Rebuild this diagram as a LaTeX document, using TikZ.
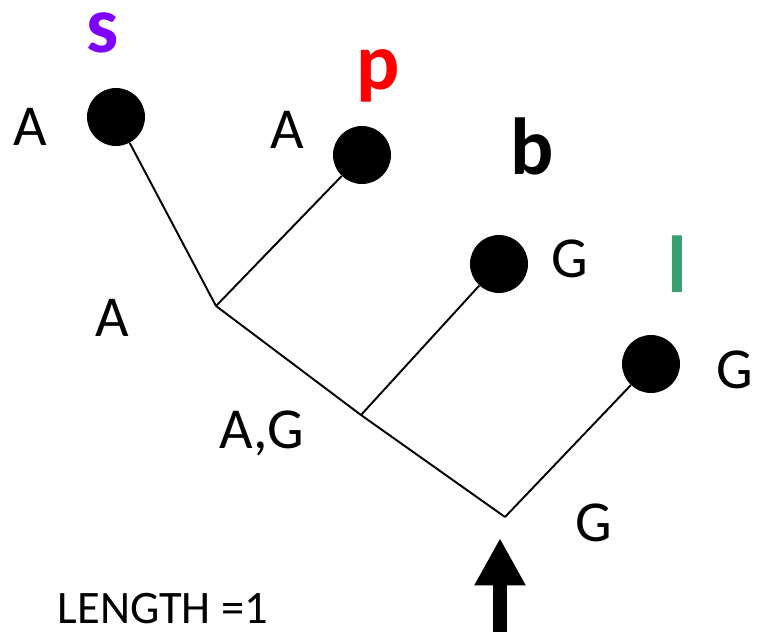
\documentclass[tikz,border=0pt]{standalone}
\usepackage{fontspec}
\setmainfont{Carlito}
\usetikzlibrary{arrows.meta}

\definecolor{spurple}{HTML}{7F00FF}
\definecolor{lgreen}{HTML}{3A9F6E}

\tikzset{
  leaf/.style={circle, fill=black, inner sep=0pt, minimum size=1.16cm},
  branch/.style={line width=1.1pt},
  state/.style={font=\fontsize{33}{38}\selectfont},
  taxon/.style={font=\fontsize{46}{52}\selectfont\bfseries, inner sep=1pt}
}

\begin{document}
\begin{tikzpicture}[x=0.02cm, y=-0.02cm]
	\useasboundingbox (0,0) rectangle (761,639);
	% leaves
	\node[leaf] (s) at (116,117) {};
	\node[leaf] (p) at (362,155) {};
	\node[leaf] (b) at (499,264) {};
	\node[leaf] (l) at (651,364) {};
	% inner nodes and root
	\coordinate (sp) at (216,306);
	\coordinate (spb) at (361,415);
	\coordinate (root) at (505,517);
	% branches
	\draw[branch] (s) -- (sp);
	\draw[branch] (p) -- (sp);
	\draw[branch] (sp) -- (spb) -- (root);
	\draw[branch] (b) -- (spb);
	\draw[branch] (l) -- (root);
	% taxon names
	\node[taxon, text=spurple, inner sep=0pt, text height=0.7cm, text depth=0pt] (ns) at (103,35) {s};
	\node[taxon, text=red] (np) at (378,76) {p};
	\node[taxon] (nb) at (532,146) {b};
	\node[taxon, text=lgreen] (nl) at (677,264) {l};
	% states
	\node[state] (as) at (30,127) {A};
	\node[state] (ap) at (287,130) {A};
	\node[state] (gb) at (570,259) {G};
	\node[state] (gl) at (735,370) {G};
	\node[state] (asp) at (112,318) {A};
	\node[state] (agspb) at (262,433) {A,G};
	\node[state] (groot) at (594,523) {G};
	\node[font=\fontsize{26.5}{30}\selectfont] (len) at (163,609) {LENGTH =1};
	% root arrow
	\coordinate (tail) at (500,632);
	\coordinate (tip) at (500,538);
	\draw[line width=0.28cm, -{Triangle[length=0.95cm, width=0.96cm]}] (tail) -- (tip);
\end{tikzpicture}
\end{document}
